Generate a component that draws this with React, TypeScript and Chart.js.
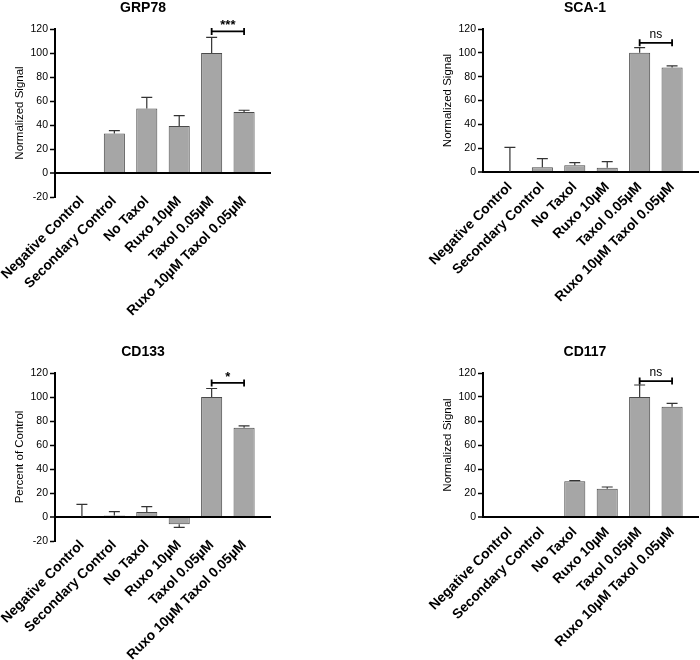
import React, { useEffect, useRef } from 'react';
import { Chart, registerables } from 'chart.js';

Chart.register(...registerables);

const categories = [
  'Negative Control',
  'Secondary Control',
  'No Taxol',
  'Ruxo 10µM',
  'Taxol 0.05µM',
  'Ruxo 10µM Taxol 0.05µM',
];

const grp78Values = [null, 33, 53.8, 39.2, 100, 50.8];
const grp78Errors = [null, 2.3, 9.3, 8.6, 13, 1.5];

const sca1Values = [0, 3.9, 5.6, 3.6, 100, 87.7];
const sca1Errors = [20.7, 7.3, 2.2, 5.1, 4.3, 1.3];

const cd133Values = [0, 1.2, 4.2, -6, 100, 74.4];
const cd133Errors = [10.6, 3.2, 4.4, 2.6, 7.1, 1.6];

const cd117Values = [null, null, 29.7, 23.6, 100, 91.9];
const cd117Errors = [null, null, 0.6, 1.4, 10, 2.8];

const panelTitles = ['GRP78', 'SCA-1', 'CD133', 'CD117'];
const yAxisLabels = ['Normalized Signal', 'Normalized Signal', 'Percent of Control', 'Normalized Signal'];
const yMins = [-20, 0, -20, 0];
const yMax = 120;
const yStep = 20;
const sigTexts = ['***', 'ns', '*', 'ns'];
const sigLevels = [118, 108.4, 111.7, 113.3];
const sigFrom = 4;
const sigTo = 5;

const FONT = '"Liberation Sans", Arial, Helvetica, sans-serif';

const decorPlugin = {
  id: 'panelDecor',
  afterDatasetsDraw(chart: any, _args: any, opts: any) {
    const ctx = chart.ctx;
    const xs = chart.scales.x;
    const ys = chart.scales.y;
    const meta = chart.getDatasetMeta(0);
    const vals = opts.values as (number | null)[];
    const errs = opts.errors as (number | null)[];
    ctx.save();
    ctx.strokeStyle = '#333';
    ctx.lineWidth = 1.2;
    errs.forEach((e, i) => {
      const v = vals[i];
      if (e == null || v == null) return;
      const el = meta.data[i];
      const w = el && isFinite(el.width) ? el.width : 21;
      const half = w * 0.26;
      const x = xs.getPixelForValue(i);
      const y0 = ys.getPixelForValue(v);
      const y1 = ys.getPixelForValue(v >= 0 ? v + e : v - e);
      ctx.beginPath();
      ctx.moveTo(x, y0);
      ctx.lineTo(x, y1);
      ctx.moveTo(x - half, y1);
      ctx.lineTo(x + half, y1);
      ctx.stroke();
    });
    // significance bracket
    const xa = xs.getPixelForValue(opts.sigFrom);
    const xb = xs.getPixelForValue(opts.sigTo);
    const yb = ys.getPixelForValue(opts.sigLevel);
    ctx.strokeStyle = '#000';
    ctx.lineWidth = 1.8;
    ctx.beginPath();
    ctx.moveTo(xa, yb);
    ctx.lineTo(xb, yb);
    ctx.moveTo(xa, yb - 3.5);
    ctx.lineTo(xa, yb + 3.5);
    ctx.moveTo(xb, yb - 3.5);
    ctx.lineTo(xb, yb + 3.5);
    ctx.stroke();
    ctx.fillStyle = '#000';
    ctx.textAlign = 'center';
    ctx.textBaseline = 'middle';
    const isStar = String(opts.sigText).indexOf('*') >= 0;
    ctx.font = isStar ? `bold 13px ${FONT}` : `12px ${FONT}`;
    ctx.fillText(opts.sigText, (xa + xb) / 2, yb - (isStar ? 6 : 8));
    ctx.restore();
  },
  afterDraw(chart: any, _args: any, opts: any) {
    const ctx = chart.ctx;
    ctx.save();
    ctx.fillStyle = '#000';
    ctx.font = `bold 14px ${FONT}`;
    ctx.textAlign = 'center';
    ctx.textBaseline = 'middle';
    ctx.fillText(opts.title, opts.titleX, opts.titleY);
    ctx.restore();
  },
};

type PanelProps = {
  values: (number | null)[];
  errors: (number | null)[];
  title: string;
  yLabel: string;
  yMin: number;
  sigText: string;
  sigLevel: number;
  width: number;
  height: number;
  xAxisHeight: number;
  labelPad: number;
  titleX: number;
};

function Panel(p: PanelProps) {
  const ref = useRef<HTMLCanvasElement>(null);
  useEffect(() => {
    if (!ref.current) return;
    const chart = new Chart(ref.current, {
      type: 'bar',
      data: {
        datasets: [
          {
            data: p.values.map((v, i) => ({ x: i, y: v })) as any,
            backgroundColor: '#a6a6a6',
            borderColor: '#4a4a4a',
            borderWidth: 1,
            barPercentage: 0.65,
            categoryPercentage: 1,
          },
        ],
      },
      options: {
        animation: false,
        responsive: false,
        layout: { padding: { top: 29, right: 4, left: 0, bottom: 0 } },
        plugins: {
          legend: { display: false },
          tooltip: { enabled: false },
          title: { display: false },
          panelDecor: {
            values: p.values,
            errors: p.errors,
            title: p.title,
            titleX: p.titleX,
            titleY: 8,
            sigFrom,
            sigTo,
            sigLevel: p.sigLevel,
            sigText: p.sigText,
          },
        } as any,
        scales: {
          x: {
            type: 'linear',
            min: -0.83,
            max: 5.83,
            offset: false,
            afterBuildTicks: (s: any) => {
              s.ticks = categories.map((_, i) => ({ value: i }));
            },
            afterFit: (s: any) => {
              s.height = p.xAxisHeight;
              s.paddingLeft = 0;
              s.paddingRight = 0;
              s._computeLabelArea = () => undefined;
            },
            grid: { display: false, drawTicks: false, offset: false },
            border: { display: false },
            ticks: {
              autoSkip: false,
              minRotation: 45,
              maxRotation: 45,
              padding: p.labelPad,
              color: '#000',
              font: { family: FONT, size: 13.8, weight: 'bold' },
              callback: (v: any) => categories[v] ?? '',
            },
          } as any,
          y: {
            min: p.yMin,
            max: yMax,
            afterFit: (s: any) => {
              s.width = 55;
            },
            ticks: {
              stepSize: yStep,
              padding: 2,
              color: '#000',
              font: { family: FONT, size: 10.5 },
            },
            grid: {
              color: (c: any) => (c.tick && c.tick.value === 0 ? '#000' : 'rgba(0,0,0,0)'),
              lineWidth: (c: any) => (c.tick && c.tick.value === 0 ? 2 : 1),
              tickColor: '#000',
              tickWidth: 1.5,
              tickLength: 5,
            },
            border: { display: true, color: '#000', width: 2 },
            title: {
              display: true,
              text: p.yLabel,
              color: '#000',
              font: { family: FONT, size: 11.5 },
              padding: { top: 13, bottom: 0 },
            },
          } as any,
        },
      },
      plugins: [decorPlugin as any],
    });
    return () => chart.destroy();
  }, []);
  return <canvas ref={ref} width={p.width} height={p.height} />;
}

const panelBoxes = [
  { left: 0, top: 0, height: 330, xAxisHeight: 133, labelPad: -4, titleX: 143 },
  { left: 428, top: 0, height: 330, xAxisHeight: 158, labelPad: 7, titleX: 157 },
  { left: 0, top: 344, height: 316, xAxisHeight: 119, labelPad: -4, titleX: 143 },
  { left: 428, top: 344, height: 316, xAxisHeight: 143, labelPad: 7, titleX: 157 },
];

const panelValues = [grp78Values, sca1Values, cd133Values, cd117Values];
const panelErrors = [grp78Errors, sca1Errors, cd133Errors, cd117Errors];

export default function App() {
  return (
    <div style={{ position: 'absolute', left: 0, top: 0, width: 700, height: 660, background: '#fff', overflow: 'hidden' }}>
      {panelBoxes.map((b, i) => (
        <div key={i} style={{ position: 'absolute', left: b.left, top: b.top, width: 275, height: b.height }}>
          <Panel
            values={panelValues[i]}
            errors={panelErrors[i]}
            title={panelTitles[i]}
            yLabel={yAxisLabels[i]}
            yMin={yMins[i]}
            sigText={sigTexts[i]}
            sigLevel={sigLevels[i]}
            width={275}
            height={b.height}
            xAxisHeight={b.xAxisHeight}
            labelPad={b.labelPad}
            titleX={b.titleX}
          />
        </div>
      ))}
    </div>
  );
}
